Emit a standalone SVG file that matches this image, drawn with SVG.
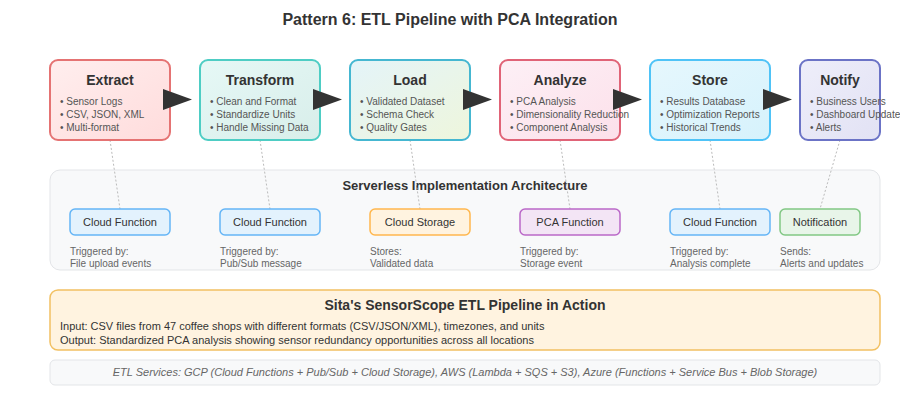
<svg xmlns="http://www.w3.org/2000/svg" width="900" height="400" viewBox="0 0 900 400">
<defs>
<linearGradient id="gExtract" x1="0" y1="0" x2="1" y2="1"><stop offset="0" stop-color="#ffeeee"/><stop offset="1" stop-color="#ffdcdc"/></linearGradient>
<linearGradient id="gTransform" x1="0" y1="0" x2="1" y2="1"><stop offset="0" stop-color="#e6f8f6"/><stop offset="1" stop-color="#d8eeea"/></linearGradient>
<linearGradient id="gLoad" x1="0" y1="0" x2="1" y2="1"><stop offset="0" stop-color="#e4f4f9"/><stop offset="1" stop-color="#eef6dc"/></linearGradient>
<linearGradient id="gAnalyze" x1="0" y1="0" x2="1" y2="1"><stop offset="0" stop-color="#fdf0f6"/><stop offset="1" stop-color="#fce0ea"/></linearGradient>
<linearGradient id="gStore" x1="0" y1="0" x2="1" y2="1"><stop offset="0" stop-color="#e6f7fd"/><stop offset="1" stop-color="#d6f2fc"/></linearGradient>
<linearGradient id="gNotify" x1="0" y1="0" x2="1" y2="1"><stop offset="0" stop-color="#eeeefa"/><stop offset="1" stop-color="#e2e2f4"/></linearGradient>
</defs>
<style>
text{font-family:"Liberation Sans",Arial,sans-serif;}
.title{font-size:16px;font-weight:bold;fill:#333;}
.stage{stroke-width:2;}
.stitle{font-size:14px;font-weight:bold;fill:#333;}
.bul{font-size:10px;fill:#555;}
.panel{fill:#f8f9fa;stroke:#e3e5e8;stroke-width:1;}
.ptitle{font-size:13px;font-weight:bold;fill:#333;}
.node{stroke-width:1.5;}
.ntext{font-size:11px;fill:#333;}
.desc{font-size:10px;fill:#666;}
.dot{stroke:#bbb;stroke-width:1;stroke-dasharray:2,2;fill:none;}
.arrow{fill:#333;}
.body{font-size:11px;fill:#333;}
.svc{font-size:11px;font-style:italic;fill:#666;}
</style>
<rect width="900" height="400" fill="#ffffff"/>
<text class="title" x="450" y="25" text-anchor="middle">Pattern 6: ETL Pipeline with PCA Integration</text>

<g id="serverless-panel">
<rect class="panel" x="50" y="170" width="830" height="100" rx="10"/>
<text class="ptitle" x="465" y="190" text-anchor="middle">Serverless Implementation Architecture</text>
</g>

<g id="connectors">
<line class="dot" x1="110" y1="140" x2="120" y2="209"/>
<line class="dot" x1="260" y1="140" x2="270" y2="209"/>
<line class="dot" x1="410" y1="140" x2="420" y2="209"/>
<line class="dot" x1="560" y1="140" x2="570" y2="209"/>
<line class="dot" x1="710" y1="140" x2="720" y2="209"/>
<line class="dot" x1="840" y1="140" x2="820" y2="209"/>
</g>

<g id="extract">
<rect class="stage" x="50" y="60" width="120" height="80" rx="8" fill="url(#gExtract)" stroke="#e57373"/>
<text class="stitle" x="110" y="85" text-anchor="middle">Extract</text>
<text class="bul" x="60" y="105">• Sensor Logs</text>
<text class="bul" x="60" y="118">• CSV, JSON, XML</text>
<text class="bul" x="60" y="131">• Multi-format</text>
</g>
<g id="transform">
<rect class="stage" x="200" y="60" width="120" height="80" rx="8" fill="url(#gTransform)" stroke="#4ecdc4"/>
<text class="stitle" x="260" y="85" text-anchor="middle">Transform</text>
<text class="bul" x="210" y="105">• Clean and Format</text>
<text class="bul" x="210" y="118">• Standardize Units</text>
<text class="bul" x="210" y="131">• Handle Missing Data</text>
</g>
<g id="load">
<rect class="stage" x="350" y="60" width="120" height="80" rx="8" fill="url(#gLoad)" stroke="#45b7d1"/>
<text class="stitle" x="410" y="85" text-anchor="middle">Load</text>
<text class="bul" x="360" y="105">• Validated Dataset</text>
<text class="bul" x="360" y="118">• Schema Check</text>
<text class="bul" x="360" y="131">• Quality Gates</text>
</g>
<g id="analyze">
<rect class="stage" x="500" y="60" width="120" height="80" rx="8" fill="url(#gAnalyze)" stroke="#e06377"/>
<text class="stitle" x="560" y="85" text-anchor="middle">Analyze</text>
<text class="bul" x="510" y="105">• PCA Analysis</text>
<text class="bul" x="510" y="118">• Dimensionality Reduction</text>
<text class="bul" x="510" y="131">• Component Analysis</text>
</g>
<g id="store">
<rect class="stage" x="650" y="60" width="120" height="80" rx="8" fill="url(#gStore)" stroke="#4fc3f7"/>
<text class="stitle" x="710" y="85" text-anchor="middle">Store</text>
<text class="bul" x="660" y="105">• Results Database</text>
<text class="bul" x="660" y="118">• Optimization Reports</text>
<text class="bul" x="660" y="131">• Historical Trends</text>
</g>
<g id="notify">
<rect class="stage" x="800" y="60" width="80" height="80" rx="8" fill="url(#gNotify)" stroke="#6b73c6"/>
<text class="stitle" x="840" y="85" text-anchor="middle">Notify</text>
<text class="bul" x="810" y="105">• Business Users</text>
<text class="bul" x="810" y="118">• Dashboard Updates</text>
<text class="bul" x="810" y="131">• Alerts</text>
</g>

<g id="arrows">
<polygon class="arrow" points="163,89 192,99.5 163,110"/>
<polygon class="arrow" points="313,89 342,99.5 313,110"/>
<polygon class="arrow" points="463,89 492,99.5 463,110"/>
<polygon class="arrow" points="613,89 642,99.5 613,110"/>
<polygon class="arrow" points="763,89 792,99.5 763,110"/>
</g>

<g id="cf1">
<rect class="node" x="70" y="209" width="100" height="26" rx="5" fill="#e3f2fd" stroke="#64b5f6"/>
<text class="ntext" x="120" y="226" text-anchor="middle">Cloud Function</text>
<text class="desc" x="70" y="255">Triggered by:</text>
<text class="desc" x="70" y="267">File upload events</text>
</g>
<g id="cf2">
<rect class="node" x="220" y="209" width="100" height="26" rx="5" fill="#e3f2fd" stroke="#64b5f6"/>
<text class="ntext" x="270" y="226" text-anchor="middle">Cloud Function</text>
<text class="desc" x="220" y="255">Triggered by:</text>
<text class="desc" x="220" y="267">Pub/Sub message</text>
</g>
<g id="storage">
<rect class="node" x="370" y="209" width="100" height="26" rx="5" fill="#fff3e0" stroke="#ffb74d"/>
<text class="ntext" x="420" y="226" text-anchor="middle">Cloud Storage</text>
<text class="desc" x="370" y="255">Stores:</text>
<text class="desc" x="370" y="267">Validated data</text>
</g>
<g id="pca">
<rect class="node" x="520" y="209" width="100" height="26" rx="5" fill="#f3e5f5" stroke="#ba68c8"/>
<text class="ntext" x="570" y="226" text-anchor="middle">PCA Function</text>
<text class="desc" x="520" y="255">Triggered by:</text>
<text class="desc" x="520" y="267">Storage event</text>
</g>
<g id="cf3">
<rect class="node" x="670" y="209" width="100" height="26" rx="5" fill="#e3f2fd" stroke="#64b5f6"/>
<text class="ntext" x="720" y="226" text-anchor="middle">Cloud Function</text>
<text class="desc" x="670" y="255">Triggered by:</text>
<text class="desc" x="670" y="267">Analysis complete</text>
</g>
<g id="notification">
<rect class="node" x="780" y="209" width="80" height="26" rx="5" fill="#e8f5e9" stroke="#81c784"/>
<text class="ntext" x="820" y="226" text-anchor="middle">Notification</text>
<text class="desc" x="780" y="255">Sends:</text>
<text class="desc" x="780" y="267">Alerts and updates</text>
</g>

<g id="sita">
<rect x="50" y="290" width="830" height="60" rx="8" fill="#fff3e0" stroke="#f2c062" stroke-width="1.5"/>
<text x="465" y="310" text-anchor="middle" font-size="14" font-weight="bold" fill="#333">Sita's SensorScope ETL Pipeline in Action</text>
<text class="body" x="60" y="330">Input: CSV files from 47 coffee shops with different formats (CSV/JSON/XML), timezones, and units</text>
<text class="body" x="60" y="344">Output: Standardized PCA analysis showing sensor redundancy opportunities across all locations</text>
</g>

<g id="services">
<rect class="panel" x="50" y="360" width="830" height="25" rx="5"/>
<text class="svc" x="465" y="376" text-anchor="middle">ETL Services: GCP (Cloud Functions + Pub/Sub + Cloud Storage), AWS (Lambda + SQS + S3), Azure (Functions + Service Bus + Blob Storage)</text>
</g>
</svg>
